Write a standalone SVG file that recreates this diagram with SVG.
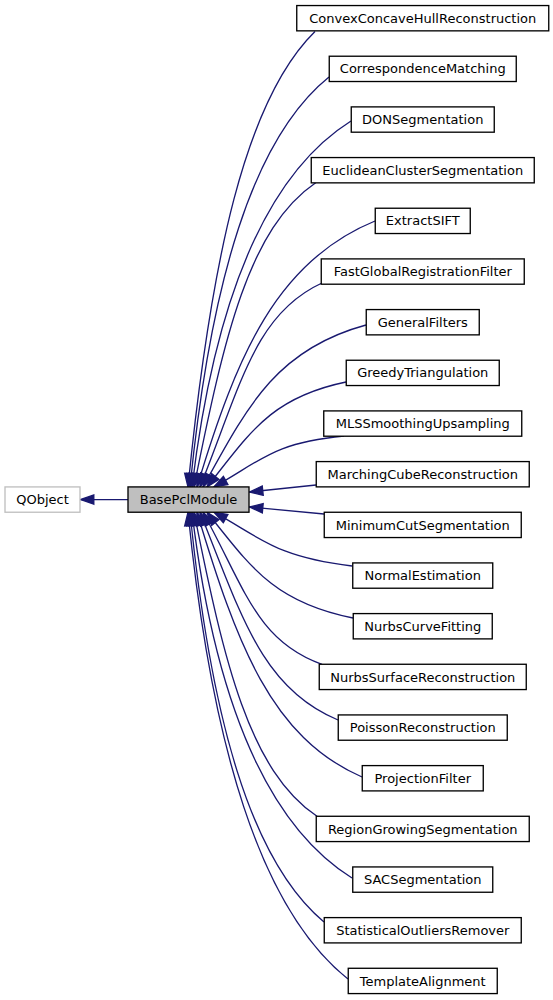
<svg xmlns="http://www.w3.org/2000/svg" width="553" height="1000" viewBox="0 0 553 1000">
<style>
.n rect{fill:#fff;stroke:#000;stroke-width:1.33}
.n text{font-family:"DejaVu Sans","Liberation Sans",sans-serif;font-size:13px;text-anchor:middle;fill:#000}
#edges path{fill:none;stroke:#191970;stroke-width:1.33;marker-end:url(#arr)}
</style>
<defs>
<marker id="arr" markerUnits="userSpaceOnUse" markerWidth="16" markerHeight="12" refX="13.3" refY="5" orient="auto" overflow="visible">
<path d="M0,0.33 L13.3,5 L0,9.67 z" fill="#191970" stroke="#191970" stroke-width="1.33"/>
</marker>
</defs>
<rect width="553" height="1000" fill="#fff"/>
<g id="edges">
<path d="M128,499.57 L80.5,499.57"/>
<path d="M315,31.5 C245.2,99.8 210.8,259.2 188,486.9"/>
<path d="M329,77 C252.55,138.5 210.5,282 190,486.9"/>
<path d="M351,121 C263.55,175.9 214,304 192,486.9"/>
<path d="M316,182.5 C248.9,228.2 224.5,334.75 194,486.9"/>
<path d="M375,221 C277.1,260.9 236.9,354 197,486.9"/>
<path d="M322,283 C254.9,313.6 240.8,385 200,486.9"/>
<path d="M366,325 C276.35,349.3 247.55,406 203,486.9"/>
<path d="M346,382 C269.55,397.75 249,434.5 207,486.9"/>
<path d="M344,436 C272.5,442.8 260.8,461 214,486.9"/>
<path d="M316,485 L249.5,492"/>
<path d="M324,514 L249.5,507"/>
<path d="M352,566 C276.1,557 261.7,538.5 214,512.2"/>
<path d="M353,618 C272.7,602.1 249.4,565 207,512.2"/>
<path d="M322,664.3 C256.55,641.2 244.8,588 203,512.2"/>
<path d="M338,720 C262.1,688.8 241.6,616 200,512.2"/>
<path d="M362,777 C271.25,737.25 236.75,644.5 197,512.2"/>
<path d="M317,816.3 C249.35,770.4 224.4,664 194,512.2"/>
<path d="M352,878 C264,823.1 214,695 192,512.2"/>
<path d="M324,922 C250.3,860.5 210.5,717 190,512.2"/>
<path d="M348,979 C260,909 211.35,745.5 188,512.2"/>
</g>
<g id="QObject" class="n"><rect x="5" y="486.92" width="75" height="25.3" style="stroke:#bfbfbf"/><text x="42.5" y="504.17">QObject</text></g>
<g id="BasePclModule" class="n"><rect x="128" y="486.92" width="121" height="25.3" style="fill:#bfbfbf"/><text x="188.5" y="504.17">BasePclModule</text></g>
<g id="ConvexConcaveHullReconstruction" class="n"><rect x="296.75" y="5.55" width="252" height="25.3"/><text x="422.75" y="22.8">ConvexConcaveHullReconstruction</text></g>
<g id="CorrespondenceMatching" class="n"><rect x="329.25" y="56.22" width="187" height="25.3"/><text x="422.75" y="73.47">CorrespondenceMatching</text></g>
<g id="DONSegmentation" class="n"><rect x="351.25" y="106.89" width="143" height="25.3"/><text x="422.75" y="124.14">DONSegmentation</text></g>
<g id="EuclideanClusterSegmentation" class="n"><rect x="311.25" y="157.56" width="223" height="25.3"/><text x="422.75" y="174.81">EuclideanClusterSegmentation</text></g>
<g id="ExtractSIFT" class="n"><rect x="375.25" y="208.23" width="95" height="25.3"/><text x="422.75" y="225.48">ExtractSIFT</text></g>
<g id="FastGlobalRegistrationFilter" class="n"><rect x="321.25" y="258.9" width="203" height="25.3"/><text x="422.75" y="276.15">FastGlobalRegistrationFilter</text></g>
<g id="GeneralFilters" class="n"><rect x="366.25" y="309.57" width="113" height="25.3"/><text x="422.75" y="326.82">GeneralFilters</text></g>
<g id="GreedyTriangulation" class="n"><rect x="346.25" y="360.24" width="153" height="25.3"/><text x="422.75" y="377.49">GreedyTriangulation</text></g>
<g id="MLSSmoothingUpsampling" class="n"><rect x="323.75" y="410.91" width="198" height="25.3"/><text x="422.75" y="428.16">MLSSmoothingUpsampling</text></g>
<g id="MarchingCubeReconstruction" class="n"><rect x="316.25" y="461.58" width="213" height="25.3"/><text x="422.75" y="478.83">MarchingCubeReconstruction</text></g>
<g id="MinimumCutSegmentation" class="n"><rect x="324.25" y="512.25" width="197" height="25.3"/><text x="422.75" y="529.5">MinimumCutSegmentation</text></g>
<g id="NormalEstimation" class="n"><rect x="352.75" y="562.92" width="140" height="25.3"/><text x="422.75" y="580.17">NormalEstimation</text></g>
<g id="NurbsCurveFitting" class="n"><rect x="353.25" y="613.59" width="139" height="25.3"/><text x="422.75" y="630.84">NurbsCurveFitting</text></g>
<g id="NurbsSurfaceReconstruction" class="n"><rect x="319.25" y="664.26" width="207" height="25.3"/><text x="422.75" y="681.51">NurbsSurfaceReconstruction</text></g>
<g id="PoissonReconstruction" class="n"><rect x="338.25" y="714.93" width="169" height="25.3"/><text x="422.75" y="732.18">PoissonReconstruction</text></g>
<g id="ProjectionFilter" class="n"><rect x="362.25" y="765.6" width="121" height="25.3"/><text x="422.75" y="782.85">ProjectionFilter</text></g>
<g id="RegionGrowingSegmentation" class="n"><rect x="316.25" y="816.27" width="213" height="25.3"/><text x="422.75" y="833.52">RegionGrowingSegmentation</text></g>
<g id="SACSegmentation" class="n"><rect x="352.75" y="866.94" width="140" height="25.3"/><text x="422.75" y="884.19">SACSegmentation</text></g>
<g id="StatisticalOutliersRemover" class="n"><rect x="324.25" y="917.61" width="197" height="25.3"/><text x="422.75" y="934.86">StatisticalOutliersRemover</text></g>
<g id="TemplateAlignment" class="n"><rect x="348.25" y="968.28" width="149" height="25.3"/><text x="422.75" y="985.53">TemplateAlignment</text></g>
</svg>
